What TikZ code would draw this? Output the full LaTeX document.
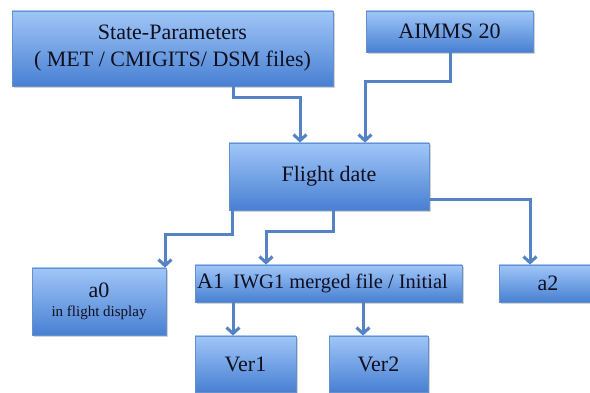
\documentclass[tikz,border=0pt]{standalone}
\usepackage{fontspec}
\setmainfont{Liberation Serif}
\usetikzlibrary{arrows.meta,shadows}
\definecolor{boxtop}{RGB}{160,198,248}
\definecolor{boxbot}{RGB}{72,128,210}
\definecolor{boxline}{RGB}{100,145,205}
\definecolor{conncol}{RGB}{84,130,196}
\definecolor{txt}{RGB}{15,15,30}
\begin{document}
\begin{tikzpicture}[x=1pt,y=-1pt,
  box/.style={draw=boxline, line width=0.8pt, top color=boxtop, bottom color=boxbot,
    text=txt, inner sep=0pt, align=center,
    drop shadow={shadow xshift=1.5pt, shadow yshift=-2.5pt, opacity=0.35}},
  conn/.style={draw=conncol, line width=3pt, -{Straight Barb[length=6pt,width=13pt]}},
  big/.style={font=\fontsize{22}{27}\selectfont}]
\useasboundingbox (0,0) rectangle (590,393);
\clip (0,0) rectangle (590,393);
\node[box, big, minimum width=321pt, minimum height=75pt] (state) at (172.5,48.5)
  {State-Parameters\\( MET / CMIGITS/ DSM files)};
\node[box, big, minimum width=167pt, minimum height=41pt] (aimms) at (449.5,31.5) {AIMMS 20};
\node[box, big, minimum width=200pt, minimum height=67pt] (flight) at (329,176.5) {Flight date};
\node[box, font=\fontsize{22}{19}\selectfont, minimum width=134pt, minimum height=67pt] (a0) at (99,301.5)
  {a0\\{\fontsize{15}{19}\selectfont in flight display}};
\node[box, minimum width=267pt, minimum height=37pt] (A1) at (328.5,283.5)
  {{\fontsize{22}{22}\selectfont A1}\hspace{9pt}{\fontsize{20.5}{22}\selectfont IWG1 merged file / Initial}\hspace*{12pt}};
\node[box, big, minimum width=98pt, minimum height=37pt] (a2) at (548,283.5) {a2};
\node[box, big, minimum width=101pt, minimum height=56pt] (ver1) at (245.5,364) {Ver1};
\node[box, big, minimum width=99pt, minimum height=56pt] (ver2) at (378.5,364) {Ver2};
\draw[conn] (233,0 |- state.south) |- (300,98) -- (300,0 |- flight.north);
\draw[conn] (450,0 |- aimms.south) |- (365,82) -- (365,0 |- flight.north);
\draw[conn] (232,0 |- flight.south) |- (165,235) -- (165,0 |- a0.north);
\draw[conn] (333,0 |- flight.south) |- (266,232) -- (266,0 |- A1.north);
\draw[conn] (0,200 -| flight.east) -| (530,0 |- a2.north);
\draw[conn] (233,0 |- A1.south) -- (233,0 |- ver1.north);
\draw[conn] (363,0 |- A1.south) -- (363,0 |- ver2.north);
\end{tikzpicture}
\end{document}
